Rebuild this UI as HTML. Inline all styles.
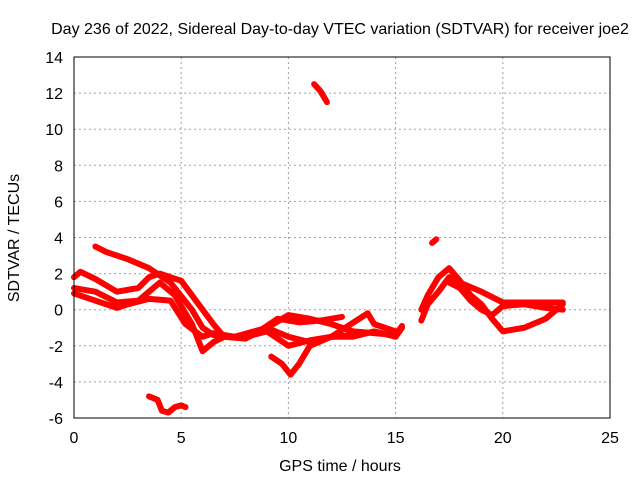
<!DOCTYPE html>
<html><head><meta charset="utf-8"><style>
body{margin:0;background:#fff}
svg{display:block;font-family:"Liberation Sans",sans-serif;font-size:16px}
</style></head><body>
<svg id="c" width="640" height="480">
<text x="340" y="34" text-anchor="middle">Day 236 of 2022, Sidereal Day-to-day VTEC variation (SDTVAR) for receiver joe2</text>
<text x="340" y="471" text-anchor="middle">GPS time / hours</text>
<text transform="translate(19,238) rotate(-90)" text-anchor="middle">SDTVAR / TECUs</text>
<g id="grid"></g><g id="ticks"></g><g id="series"></g>
<rect x="74" y="57" width="536" height="361" fill="none" stroke="#000" stroke-width="1"/>
</svg>
<script>
const xTicks=[0,5,10,15,20,25];
const yTicks=[-6,-4,-2,0,2,4,6,8,10,12,14];
const s1=[[1.0,3.5],[1.5,3.2],[2.5,2.8],[3.5,2.3],[4.5,1.5],[5.5,0.0],[6.0,-1.0],[6.5,-1.4],[7.5,-1.5],[8.5,-1.3],[9.5,-0.5],[10.5,-0.7],[11.5,-0.6],[12.5,-0.4]];
const s2=[[0,1.8],[0.3,2.1],[1,1.7],[2,1.0],[3,1.2],[3.5,1.8],[4,2.0],[5,1.6],[6,0],[6.5,-0.8],[7,-1.5],[8,-1.6],[9,-1.0],[10,-0.3],[11,-0.5],[12,-0.8],[13,-1.2],[14,-1.3],[15,-1.4],[15.3,-0.9]];
const s3=[[0,1.2],[1,1.0],[2,0.4],[3,0.5],[3.5,1.0],[4,1.5],[4.7,0.8],[5,0.2],[5.5,-0.8],[6,-2.3],[6.5,-1.8],[7,-1.5],[8,-1.5],[9,-1.2],[10,-2.0],[11,-1.7],[12,-1.5],[13,-1.5],[14,-1.2],[15,-1.5],[15.3,-1.0]];
const s4=[[0,0.9],[1,0.5],[2,0.1],[2.5,0.3],[3.5,0.6],[4.5,0.5],[5.2,-0.8],[6,-1.5],[6.5,-1.3],[7.5,-1.5],[9,-1.0],[10,-1.5],[11,-1.8],[12,-1.5],[13.7,-0.2],[14,-0.8],[15,-1.2]];
const s5=[[9.2,-2.6],[9.7,-3.0],[10.1,-3.6],[10.5,-3.0],[11,-2.0],[12,-1.5],[13,-1.4]];
const s6=[[3.5,-4.8],[3.9,-5.0],[4.1,-5.6],[4.4,-5.7],[4.7,-5.4],[5,-5.3],[5.2,-5.4]];
const s7=[[11.2,12.5],[11.5,12.1],[11.8,11.5]];
const s8=[[16.7,3.7],[16.9,3.9]];
const s9=[[16.2,0],[16.5,0.8],[17,1.8],[17.5,2.3],[18,1.6],[18.5,0.8],[19,0.3],[19.5,-0.5],[20,-1.2],[21,-1.0],[22,-0.5],[22.8,0.3]];
const s10=[[16.2,-0.6],[16.5,0.3],[17,1.0],[17.5,1.8],[18,1.5],[19,1.0],[20,0.4],[21,0.4],[22,0.4],[22.8,0.4]];
const s11=[[17.5,1.5],[18,1.2],[18.5,0.5],[19,0.0],[19.5,-0.3],[20,0.2],[21,0.3],[22,0.1],[22.8,0.0]];
const allSeries=[s1,s2,s3,s4,s5,s6,s7,s8,s9,s10,s11];
const X=v=>74+v*536/25, Y=v=>418-(v+6)*361/20;
const NS='http://www.w3.org/2000/svg';
const g=document.getElementById('grid'),t=document.getElementById('ticks'),sg=document.getElementById('series');
function mk(tag,a,p){const e=document.createElementNS(NS,tag);for(const k in a)e.setAttribute(k,a[k]);p.appendChild(e);return e;}
xTicks.forEach(v=>{
 if(v>0&&v<25){const l=mk('line',{x1:X(v),x2:X(v),y1:57,y2:418,stroke:'#a0a0a0','stroke-dasharray':'2,3'},g);
 
 }
 const tx=mk('text',{x:X(v),y:443,'text-anchor':'middle'},t);tx.textContent=v;
 
 
});
yTicks.forEach(v=>{
 if(v>-6&&v<14){const l=mk('line',{x1:74,x2:610,y1:Y(v),y2:Y(v),stroke:'#a0a0a0','stroke-dasharray':'2,3'},g);
 
 }
 const tx=mk('text',{x:63,y:Y(v)+6,'text-anchor':'end'},t);tx.textContent=v;
 
 
});
allSeries.forEach(s=>{
 const p=mk('polyline',{points:s.map(d=>X(d[0])+','+Y(d[1])).join(' '),fill:'none',stroke:'#ff0000','stroke-width':6,'stroke-linejoin':'round','stroke-linecap':'round'},sg);
 
 
});
</script>
</body></html>
